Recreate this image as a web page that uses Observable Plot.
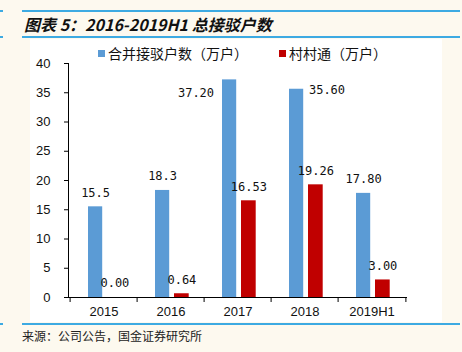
<!DOCTYPE html>
<html>
<head>
<meta charset="utf-8">
<script src="https://cdn.jsdelivr.net/npm/d3@7"></script>
<script src="https://cdn.jsdelivr.net/npm/@observablehq/plot@0.6"></script>
<style>
  html, body { margin: 0; padding: 0; }
  body { width: 462px; height: 352px; background: #fdf9ef; position: relative; overflow: hidden;
         font-family: "Noto Sans CJK SC", "Liberation Sans", sans-serif; }
  .hline { position: absolute; height: 2px; background: #3daae2; }
  #title { position: absolute; left: 24px; top: 12px; font-size: 16px; font-weight: bold; font-style: italic; color: #111; white-space: nowrap; }
  #panel { position: absolute; left: 30px; top: 39px; width: 412px; height: 283px; background: #ffffff; }
  #chart { position: absolute; left: 30px; top: 50px; }
  #legend { position: absolute; left: 98px; top: 43px; font-size: 14px; color: #111; white-space: nowrap; z-index: 2; }
  #legend span.sw { display: inline-block; width: 7px; height: 7px; vertical-align: middle; margin-right: 3px; position: relative; top: -2px; }
  #source { position: absolute; left: 22px; top: 327px; font-size: 12px; color: #222; white-space: nowrap; }
</style>
</head>
<body>
<div class="hline" style="left:0;top:10px;width:3px"></div>
<div class="hline" style="left:22px;top:10px;width:438px"></div>
<div id="title">图表 5：2016-2019H1 总接驳户数</div>
<div class="hline" style="left:0;top:36px;width:3px"></div>
<div class="hline" style="left:22px;top:36px;width:438px"></div>
<div id="panel"></div>
<div id="chart"></div>
<div id="legend"></div>
<div class="hline" style="left:0;top:323px;width:3px"></div>
<div class="hline" style="left:22px;top:323px;width:438px"></div>
<div id="source">来源：公司公告，国金证券研究所</div>
<script>
const years = ["2015", "2016", "2017", "2018", "2019H1"];
const seriesNames = ["合并接驳户数（万户）", "村村通（万户）"];
const seriesColors = ["#5b9bd5", "#c00000"];
const mergedValues = [15.5, 18.3, 37.2, 35.6, 17.8];
const mergedLabels = ["15.5", "18.3", "37.20", "35.60", "17.80"];
const villageValues = [0.0, 0.64, 16.53, 19.26, 3.0];
const villageLabels = ["0.00", "0.64", "16.53", "19.26", "3.00"];
const yTicks = [0, 5, 10, 15, 20, 25, 30, 35, 40];

const merged = years.map((y, i) => ({year: y, value: mergedValues[i], label: mergedLabels[i]}));
const village = years.map((y, i) => ({year: y, value: villageValues[i], label: villageLabels[i]}));

const W = 412, H = 272, mL = 38, mR = 35;
const step = (W - mL - mR) / years.length;

const labelFont = {fontFamily: "DejaVu Sans Mono", fontSize: 12, fill: "#111"};

const plot = Plot.plot({
  width: W, height: H,
  marginLeft: mL, marginRight: mR, marginTop: 13, marginBottom: 25,
  style: {background: "transparent", fontFamily: "Liberation Sans", overflow: "visible"},
  x: {type: "band", domain: years, padding: 0},
  y: {domain: [0, 40]},
  marks: [
    Plot.barY(merged, {x: "year", y: "value", fill: seriesColors[0], insetLeft: 18, insetRight: step - 33}),
    Plot.barY(village, {x: "year", y: "value", fill: seriesColors[1], insetLeft: 37, insetRight: step - 52.5}),
    Plot.text(merged.filter((d, i) => i !== 2 && i !== 3), {x: "year", y: "value", text: "label", dx: 25.5 - step / 2, dy: -14, ...labelFont}),
    Plot.text(merged.filter((d, i) => i === 2), {x: "year", y: "value", text: "label", dx: -42, dy: 13, ...labelFont}),
    Plot.text(merged.filter((d, i) => i === 3), {x: "year", y: "value", text: "label", dx: 22, dy: 1, ...labelFont}),
    Plot.text(village, {x: "year", y: "value", text: "label", dx: 44.8 - step / 2, dy: -14, ...labelFont}),
    Plot.frame({anchor: "left", stroke: "#000"}),
    Plot.ruleY([0], {stroke: "#000"}),
    Plot.ruleX(years, {x: d => d, y1: 0, y2: 0, dx: -step / 2, insetBottom: -5, stroke: "#000"}),
    Plot.ruleX(years.slice(-1), {x: d => d, y1: 0, y2: 0, dx: step / 2, insetBottom: -5, stroke: "#000"}),
    Plot.axisY({ticks: yTicks, tickSize: 4, tickPadding: 14, fontSize: 13, label: null, stroke: "#000", fill: "#111"}),
    Plot.axisX({tickSize: 0, tickPadding: 9, fontSize: 13, label: null, fill: "#111"})
  ]
});
document.getElementById("chart").appendChild(plot);

const legend = document.getElementById("legend");
seriesNames.forEach((name, i) => {
  const item = document.createElement("span");
  item.style.marginRight = i === 0 ? "31px" : "0";
  const sw = document.createElement("span");
  sw.className = "sw";
  sw.style.background = seriesColors[i];
  item.appendChild(sw);
  item.appendChild(document.createTextNode(name));
  legend.appendChild(item);
});
</script>
</body>
</html>
